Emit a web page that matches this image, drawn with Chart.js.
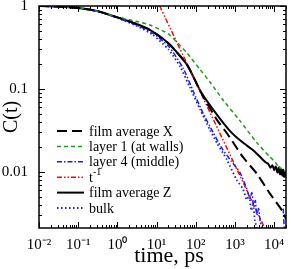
<!DOCTYPE html>
<html>
<head>
<meta charset="utf-8">
<script src="https://cdn.jsdelivr.net/npm/chart.js@4/dist/chart.umd.min.js"></script>
<style>
  html, body { margin: 0; padding: 0; background: #fff; }
  #wrap { width: 291px; height: 269px; }
</style>
</head>
<body>
<div id="wrap"><canvas id="myChart" width="291" height="269"></canvas></div>
<script>
// axis ticks
const xMajor = [1e-2, 1e-1, 1, 1e1, 1e2, 1e3, 1e4];
const xLabels = ['10\u207B\u00B2', '10\u207B\u00B9', '10\u2070', '10\u00B9', '10\u00B2', '10\u00B3', '10\u2074'];
const yMajor = [0.01, 0.1, 1];
const yLabels = ['0.01', '0.1', '1'];

// film average Z (black solid)
const tZ = [0.01, 0.03, 0.1, 0.3, 1, 3, 7, 20, 60, 130, 280, 750, 1500, 3000, 6000, 7000, 8000, 9000, 10000, 11000, 12000, 13000, 14000, 15000, 16000, 17000, 18000, 19000, 20000];
const cZ = [1, 0.985, 0.946, 0.87, 0.73, 0.61, 0.51, 0.355, 0.195, 0.095, 0.056, 0.031, 0.023, 0.018, 0.013, 0.0125, 0.0112, 0.012, 0.0105, 0.0116, 0.0098, 0.0112, 0.0093, 0.0109, 0.009, 0.0106, 0.0087, 0.0101, 0.0088];

// film average X (black long dash)
const tX = [0.01, 0.03, 0.1, 0.3, 1, 3, 7, 20, 60, 130, 190, 350, 630, 1100, 1600, 3600, 7700, 16000, 20000];
const cX = [1, 0.985, 0.946, 0.87, 0.73, 0.61, 0.51, 0.355, 0.195, 0.094, 0.068, 0.042, 0.029, 0.0195, 0.015, 0.0095, 0.0055, 0.0034, 0.0027];

// layer 1 (at walls), green dashed
const tL1 = [0.01, 0.03, 0.1, 0.3, 1, 3, 7, 20, 60, 130, 230, 500, 1300, 3600, 7700, 9000, 10000, 11000, 12000, 13000, 14000, 16000, 18000, 20000];
const cL1 = [1, 0.985, 0.946, 0.87, 0.735, 0.655, 0.585, 0.46, 0.27, 0.17, 0.121, 0.073, 0.042, 0.0225, 0.0152, 0.0142, 0.0132, 0.0128, 0.0121, 0.0124, 0.0112, 0.0108, 0.0104, 0.0098];

// layer 4 (middle), blue dash-dot
const tL4 = [0.01, 0.03, 0.1, 0.3, 1, 3, 8, 20, 47, 85, 153, 275, 470, 800, 1340, 2000, 2400, 2700, 3000, 3300, 3600, 4000, 4400, 4900, null, 17000, 18000];
const cL4 = [1, 0.985, 0.946, 0.87, 0.72, 0.59, 0.47, 0.33, 0.18, 0.095, 0.051, 0.03, 0.019, 0.0135, 0.0098, 0.0062, 0.0048, 0.0056, 0.0038, 0.0045, 0.003, 0.0036, 0.0025, 0.0021, null, 0.0036, 0.0021];

// bulk, blue dotted
const tBulk = [0.01, 0.03, 0.1, 0.3, 1, 3, 8, 20, 40, 70, 130, 230, 350, 620, 1100, 1600, 2000, 2300, 2600, 2900, 3200, 3600];
const cBulk = [1, 0.985, 0.946, 0.87, 0.72, 0.58, 0.45, 0.3, 0.185, 0.105, 0.056, 0.032, 0.022, 0.014, 0.008, 0.0062, 0.0046, 0.0052, 0.0034, 0.004, 0.0026, 0.0021];

// t^-1 guide line (red dash-dot-dot)
const tPow = [12, 5500];
const cPow = [1, 0.00218];

function pts(ts, cs) {
  return ts.map((t, i) => (t === null ? { x: null, y: null } : { x: t, y: cs[i] }));
}

const series = [
  { label: 'film average X', data: pts(tX, cX), color: '#000000', dash: [10, 5], width: 2 },
  { label: 'layer 1 (at walls)', data: pts(tL1, cL1), color: '#1f9a1f', dash: [4, 3], width: 1.5 },
  { label: 'layer 4 (middle)', data: pts(tL4, cL4), color: '#1a1aff', dash: [5, 2, 1.5, 2], width: 1.5 },
  { label: 't-1', data: pts(tPow, cPow), color: '#ff0000', dash: [5, 2, 1.5, 2, 1.5, 2], width: 1.5 },
  { label: 'film average Z', data: pts(tZ, cZ), color: '#000000', dash: [], width: 2 },
  { label: 'bulk', data: pts(tBulk, cBulk), color: '#1a1aff', dash: [1.5, 2.5], width: 1.8 }
];

const serif = "'Liberation Serif', 'Times New Roman', serif";

function isMajor(v) {
  const l = Math.log10(v);
  return Math.abs(l - Math.round(l)) < 1e-6;
}

function logTicks(min, max) {
  const out = [];
  for (let e = Math.floor(Math.log10(min)); e <= Math.ceil(Math.log10(max)); e++) {
    for (let m = 1; m < 10; m++) {
      const v = m * Math.pow(10, e);
      if (v >= min * 0.999 && v <= max * 1.001) out.push({ value: v, major: m === 1 });
    }
  }
  return out;
}

// inward tick marks, frame, x title and in-plot legend
const framePlugin = {
  id: 'frame',
  afterDraw(chart) {
    const ctx = chart.ctx;
    const a = chart.chartArea;
    ctx.save();
    ctx.strokeStyle = '#000';
    ctx.lineWidth = 1.5;
    ctx.setLineDash([]);
    ctx.strokeRect(a.left, a.top, a.right - a.left, a.bottom - a.top);
    ctx.lineWidth = 1;
    chart.scales.x.ticks.forEach(t => {
      const px = Math.round(chart.scales.x.getPixelForValue(t.value)) + 0.5;
      const len = isMajor(t.value) ? 6 : 3;
      ctx.beginPath();
      ctx.moveTo(px, a.bottom); ctx.lineTo(px, a.bottom - len);
      ctx.moveTo(px, a.top); ctx.lineTo(px, a.top + len);
      ctx.stroke();
    });
    chart.scales.y.ticks.forEach(t => {
      const py = Math.round(chart.scales.y.getPixelForValue(t.value)) + 0.5;
      const len = isMajor(t.value) ? 6 : 3;
      ctx.beginPath();
      ctx.moveTo(a.left, py); ctx.lineTo(a.left + len, py);
      ctx.moveTo(a.right, py); ctx.lineTo(a.right - len, py);
      ctx.stroke();
    });

    // x axis title, sits a little right of centre in the original
    ctx.fillStyle = '#000';
    ctx.font = '22px ' + serif;
    ctx.textAlign = 'center';
    ctx.textBaseline = 'alphabetic';
    ctx.fillText('time, ps', 169, 262);

    // legend
    const lx = 57, ly = 131, step = 15.4;
    ctx.textAlign = 'left';
    ctx.font = '14px ' + serif;
    ctx.textBaseline = 'middle';
    series.forEach((s, i) => {
      const y = ly + i * step;
      ctx.strokeStyle = s.color;
      ctx.lineWidth = s.width;
      ctx.setLineDash(s.dash);
      ctx.beginPath();
      ctx.moveTo(lx, y); ctx.lineTo(lx + 27, y);
      ctx.stroke();
      ctx.setLineDash([]);
      if (s.label === 't-1') {
        ctx.font = '14px ' + serif;
        ctx.fillText('t', lx + 32, y + 1);
        const w = ctx.measureText('t').width;
        ctx.font = '10px ' + serif;
        ctx.fillText('-1', lx + 32 + w, y - 5);
        ctx.font = '14px ' + serif;
      } else {
        ctx.fillText(s.label, lx + 32, y + 1);
      }
    });
    ctx.restore();
  }
};

const ctx = document.getElementById('myChart').getContext('2d');

const myChart = new Chart(ctx, {
  type: 'scatter',
  data: {
    datasets: series.map(s => ({
      label: s.label,
      data: s.data,
      showLine: true,
      spanGaps: false,
      borderColor: s.color,
      backgroundColor: s.color,
      borderWidth: s.width,
      borderDash: s.dash,
      pointRadius: 0,
      tension: 0.2,
      fill: false
    }))
  },
  options: {
    responsive: false,
    animation: false,
    layout: { padding: { top: 6, right: 5, left: 0, bottom: 0 } },
    scales: {
      x: {
        type: 'logarithmic',
        min: 0.01,
        max: 20000,
        grid: { display: false },
        border: { display: false },
        afterBuildTicks: s => { s.ticks = logTicks(0.01, 20000); },
        afterFit: s => { s.height = 41; s.paddingLeft = 0; s.paddingRight = 0; },
        ticks: {
          autoSkip: false,
          maxRotation: 0,
          padding: 0,
          color: '#000',
          font: { family: serif, size: 15 },
          callback: v => {
            const i = xMajor.findIndex(m => Math.abs(Math.log10(m) - Math.log10(v)) < 1e-6);
            return i >= 0 ? xLabels[i] : '';
          }
        }
      },
      y: {
        type: 'logarithmic',
        min: 0.0021,
        max: 1,
        grid: { display: false },
        border: { display: false },
        afterBuildTicks: s => { s.ticks = logTicks(0.0021, 1); },
        afterFit: s => { s.width = 39; s.paddingTop = 0; s.paddingBottom = 0; },
        ticks: {
          autoSkip: false,
          padding: 3,
          color: '#000',
          font: { family: serif, size: 15 },
          callback: v => {
            const i = yMajor.findIndex(m => Math.abs(Math.log10(m) - Math.log10(v)) < 1e-6);
            return i >= 0 ? yLabels[i] : '';
          }
        },
        title: {
          display: true,
          text: 'C(t)',
          color: '#000',
          font: { family: serif, size: 20 },
          padding: { top: 0, bottom: 0 }
        }
      }
    },
    plugins: {
      legend: { display: false },
      tooltip: { enabled: false }
    }
  },
  plugins: [framePlugin]
});
</script>
</body>
</html>
